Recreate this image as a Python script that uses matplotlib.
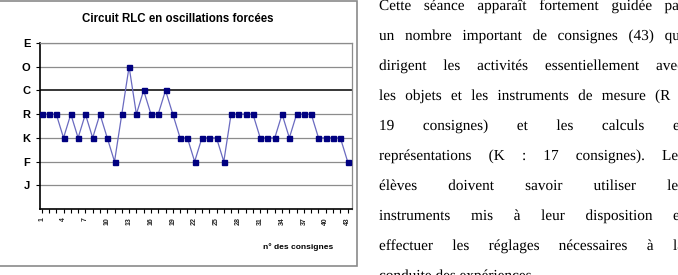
import matplotlib
matplotlib.use("Agg")
import matplotlib.pyplot as plt
import matplotlib.patheffects as pe
from matplotlib.patches import Rectangle

# ---- data ----
levels = ["J", "F", "K", "R", "C", "O", "E"]          # bottom -> top
consigne_numbers = list(range(1, 44))
consigne_codes = ["R", "R", "R", "K", "R", "K", "R", "K", "R", "K",
                  "F", "R", "O", "R", "C", "R", "R", "C", "R", "K",
                  "K", "F", "K", "K", "K", "F", "R", "R", "R", "R",
                  "K", "K", "K", "R", "K", "R", "R", "R", "K", "K",
                  "K", "K", "F"]
title = "Circuit RLC en oscillations forcées"
xlabel = "n° des consignes"

paragraph_lines = [
    "Cette séance apparaît fortement guidée par",
    "un nombre important de consignes (43) qui",
    "dirigent les activités essentiellement avec",
    "les objets et les instruments de mesure (R :",
    "19 consignes) et les calculs et",
    "représentations (K : 17 consignes). Les",
    "élèves doivent savoir utiliser les",
    "instruments mis à leur disposition et",
    "effectuer les réglages nécessaires à la",
    "conduite des expériences.",
]

W, H = 678, 275
fig = plt.figure(figsize=(W / 100, H / 100), dpi=100)

def fx(px):
    return px / W

def fy(py):
    return 1 - py / H

# chart outer frame
fig.patches.append(Rectangle((fx(-5), fy(266)), fx(362), (266 - 1) / H,
                             transform=fig.transFigure, fill=False,
                             edgecolor="#8a8a8a", linewidth=1.2))

ax = fig.add_axes([fx(40), fy(209), fx(352) - fx(40), (209 - 43) / H])

yvals = [levels.index(c) + 1 for c in consigne_codes]
ax.plot(consigne_numbers, yvals, color="#6a6ac0", linewidth=0.9,
        marker="s", markersize=3.6, markerfacecolor="#000080",
        markeredgecolor="#000080", zorder=3)

ax.set_xlim(0.77, 43.6)
ax.set_ylim(0, 7)
ax.set_yticks(range(1, 8))
ax.set_yticklabels(levels, fontsize=8, fontweight="bold",
                   family="Liberation Sans")
for i in range(1, 8):
    if levels[i - 1] == "C":
        ax.axhline(i, color="#000000", linewidth=1.1, zorder=1)
    else:
        ax.axhline(i, color="#8c8c8c", linewidth=0.9, zorder=1)

ax.set_xticks(consigne_numbers)
ax.set_xticklabels([str(n) if (n - 1) % 3 == 0 else "" for n in consigne_numbers],
                   rotation=90, fontsize=5, family="Liberation Sans",
                   fontweight="bold", color="#222222")
ax.tick_params(axis="x", length=3, width=0.8, pad=3, direction="out")
ax.tick_params(axis="y", length=3, width=0.8, pad=4, direction="out")

for s in ["left", "bottom"]:
    ax.spines[s].set_color("black")
    ax.spines[s].set_linewidth(1.2)
for s in ["top", "right"]:
    ax.spines[s].set_color("#8c8c8c")
    ax.spines[s].set_linewidth(0.9)

fig.text(fx(178), fy(18.5), title, ha="center", va="center", fontsize=8.3,
         fontweight="bold", family="Liberation Sans")
fig.text(fx(298), fy(247), xlabel, ha="center", va="center", fontsize=6,
         fontweight="bold", family="Liberation Sans")

# ---- justified paragraph on the right (one text per word) ----
FAM = "Liberation Serif"
FS = 11
L, R = 379, 684
renderer = fig.canvas.get_renderer()
probe = fig.text(0, 0, "a a", fontsize=FS, family=FAM)
sw = probe.get_window_extent(renderer).width
probe.set_text("aa")
natural_gap = sw - probe.get_window_extent(renderer).width
probe.remove()

for i, line in enumerate(paragraph_lines):
    base = 10 + 30 * i
    words = line.split(" ")
    texts = [fig.text(0, fy(base), w, ha="left", va="baseline",
                      fontsize=FS, family=FAM,
                      path_effects=[pe.Normal()]) for w in words]
    widths = [t.get_window_extent(renderer).width for t in texts]
    if i == len(paragraph_lines) - 1:
        gap = natural_gap
    else:
        gap = (R - L - sum(widths)) / (len(words) - 1)
    x = L
    for t, w in zip(texts, widths):
        t.set_x(fx(x))
        x += w + gap

fig.savefig("out.png", dpi=100)
